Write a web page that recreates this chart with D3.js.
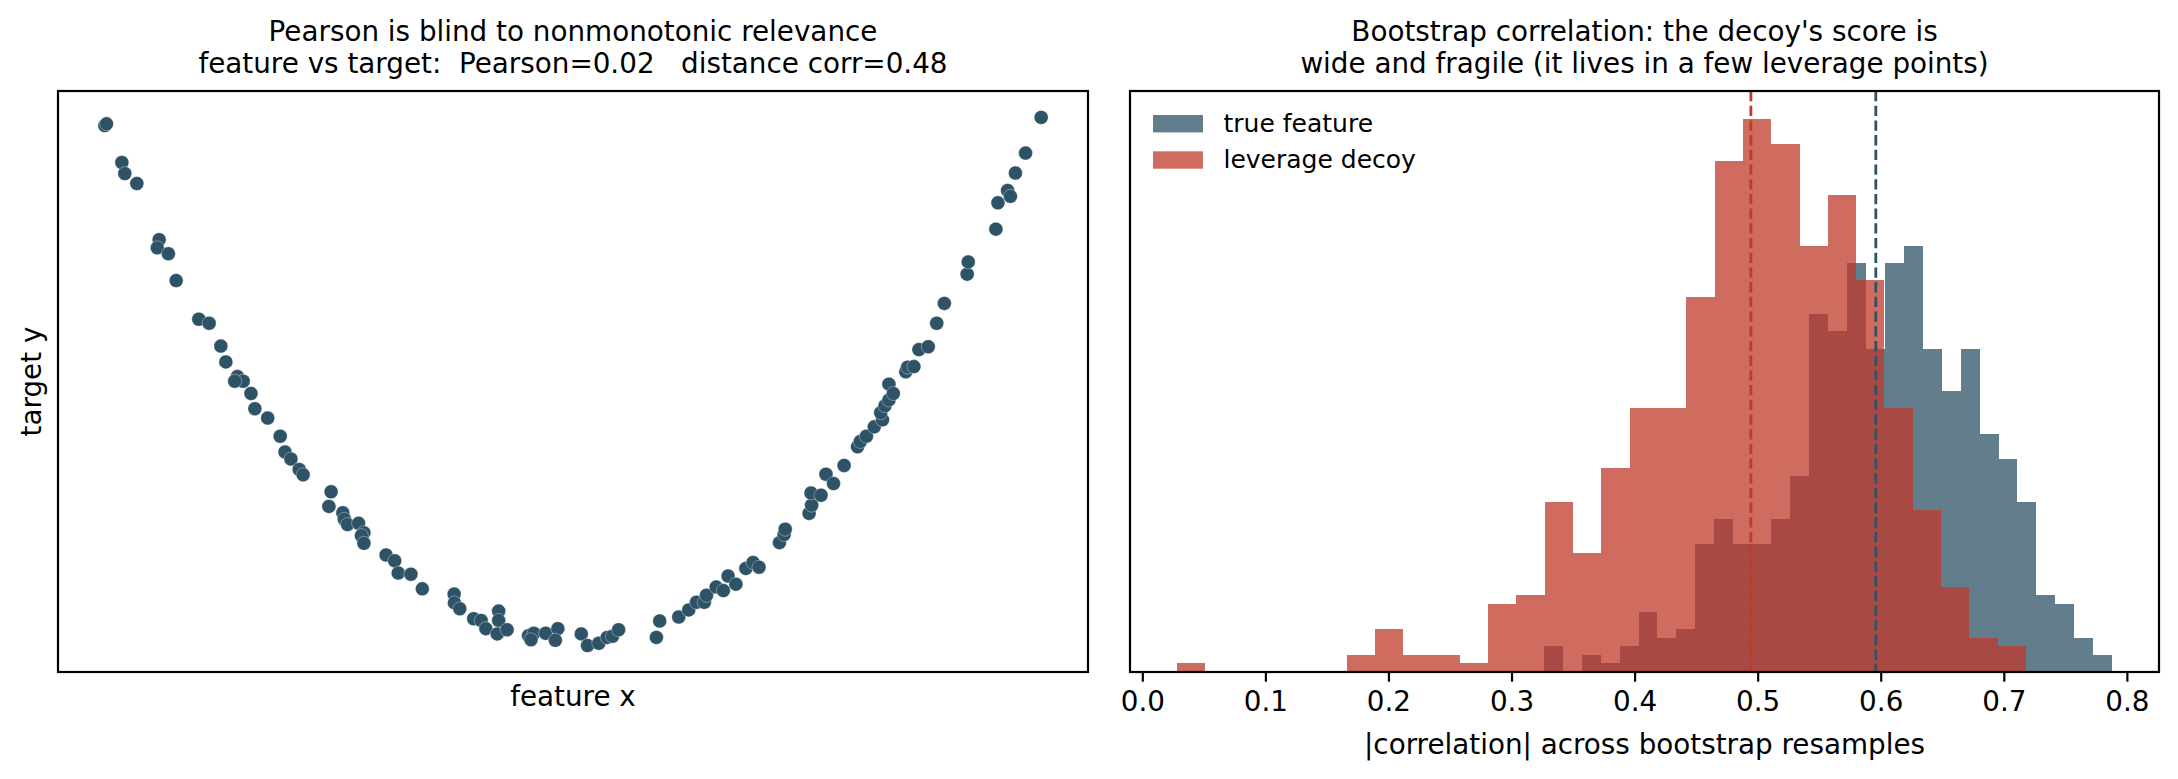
<!DOCTYPE html>
<html>
<head>
<meta charset="utf-8">
<script src="https://cdn.jsdelivr.net/npm/d3@7"></script>
<style>
  body { margin: 0; background: #fff; }
  svg { display: block; font-family: "DejaVu Sans", sans-serif; }
  text, tspan { white-space: pre; }
</style>
</head>
<body>
<div id="chart"></div>
<script>
// left panel: feature vs target scatter
const featureX = [-2.995,-2.984,-2.886,-2.867,-2.790,-2.647,-2.659,-2.588,-2.538,-2.393,
  -2.327,-2.252,-2.220,-2.146,-2.109,-2.163,-2.059,-2.034,-1.952,-1.872,
  -1.841,-1.803,-1.750,-1.725,-1.546,-1.560,-1.471,-1.461,-1.441,-1.370,
  -1.336,-1.352,-1.336,-1.194,-1.139,-1.116,-1.035,-0.962,-0.758,-0.756,
  -0.722,-0.633,-0.585,-0.555,-0.473,-0.473,-0.482,-0.419,-0.282,-0.248,
  -0.266,-0.172,-0.094,-0.110,0.056,0.096,0.168,0.222,0.256,0.295,
  0.537,0.558,0.680,0.744,0.794,0.844,0.858,0.920,0.966,0.996,
  1.046,1.110,1.156,1.194,1.325,1.355,1.362,1.515,1.531,1.527,
  1.591,1.623,1.671,1.739,1.825,1.843,1.882,1.932,1.985,1.973,
  2.001,2.026,2.026,2.054,2.134,2.146,2.186,2.218,2.278,2.332,
  2.381,2.527,2.534,2.711,2.724,2.786,2.804,2.836,2.901,3.001];
const targetY = [8.87,8.90,8.24,8.05,7.88,6.92,6.78,6.68,6.22,5.56,
  5.49,5.10,4.83,4.58,4.50,4.50,4.29,4.03,3.87,3.56,
  3.29,3.17,2.99,2.90,2.61,2.36,2.25,2.14,2.05,2.07,
  1.91,1.86,1.73,1.53,1.43,1.22,1.20,0.95,0.86,0.71,
  0.61,0.44,0.41,0.27,0.57,0.41,0.18,0.25,0.15,0.19,
  0.08,0.19,0.27,0.07,0.18,-0.02,0.02,0.12,0.14,0.25,
  0.12,0.40,0.47,0.59,0.72,0.72,0.84,0.98,0.92,1.17,
  1.03,1.30,1.40,1.32,1.74,1.88,1.97,2.24,2.38,2.59,
  2.55,2.91,2.75,3.06,3.38,3.47,3.56,3.72,3.84,3.96,
  4.08,4.18,4.45,4.29,4.66,4.74,4.75,5.04,5.09,5.49,
  5.83,6.33,6.54,7.10,7.55,7.76,7.66,8.06,8.40,9.01];

// right panel: bootstrap histograms (30 bins each, 600 resamples)
const trueCounts = [3,0,2,1,3,7,4,5,15,18,15,15,18,23,42,40,48,38,48,50,38,33,38,28,25,20,9,8,4,2];
const trueBinRange = [0.3262, 0.7881];
const decoyCounts = [1,0,0,0,0,0,2,5,2,2,1,8,9,20,14,24,31,31,44,60,65,62,50,56,46,31,19,10,4,3];
const decoyBinRange = [0.028, 0.718];
const trueMarker = 0.596;
const decoyMarker = 0.4945;
const corrTicks = [0, 0.1, 0.2, 0.3, 0.4, 0.5, 0.6, 0.7, 0.8];

const seriesNames = ["true feature", "leverage decoy"];
const titleLeft = ["Pearson is blind to nonmonotonic relevance",
                   "feature vs target:  Pearson=0.02   distance corr=0.48"];
const titleRight = ["Bootstrap correlation: the decoy's score is",
                    "wide and fragile (it lives in a few leverage points)"];

const W = 2178, H = 779;
const FS = 27.8;
const blue = "#2e5366", red = "#c0392b";

const svg = d3.select("#chart").append("svg")
    .attr("width", W)
    .attr("height", H);

svg.append("rect").attr("width", W).attr("height", H).attr("fill", "#fff");

const axTop = 91, axBottom = 672;
const panelL = { x0: 58, x1: 1088 };
const panelR = { x0: 1130, x1: 2159 };

function padded(ext, lo = 0.05, hi = 0.05) {
    const r = ext[1] - ext[0];
    return [ext[0] - r * lo, ext[1] + r * hi];
}

function titleBlock(lines, cx) {
    svg.append("text")
        .attr("x", cx)
        .attr("y", 41)
        .attr("text-anchor", "middle")
        .attr("font-size", FS)
        .attr("xml:space", "preserve")
        .selectAll("tspan")
        .data(lines)
        .enter()
        .append("tspan")
        .attr("x", cx)
        .attr("dy", (d, i) => i === 0 ? 0 : 31.5)
        .text(d => d);
}

function frame(p) {
    svg.append("rect")
        .attr("x", p.x0)
        .attr("y", axTop)
        .attr("width", p.x1 - p.x0)
        .attr("height", axBottom - axTop)
        .attr("fill", "none")
        .attr("stroke", "#000")
        .attr("stroke-width", 2.2);
}

// ---- left: scatter ----
const xs = d3.scaleLinear().domain(padded(d3.extent(featureX))).range([panelL.x0, panelL.x1]);
const ys = d3.scaleLinear().domain(padded(d3.extent(targetY))).range([axBottom, axTop]);

svg.append("g")
    .selectAll("circle")
    .data(featureX.map((x, i) => [x, targetY[i]]))
    .enter()
    .append("circle")
    .attr("cx", d => xs(d[0]))
    .attr("cy", d => ys(d[1]))
    .attr("r", 7)
    .attr("fill", blue)
    .attr("stroke", "#fff")
    .attr("stroke-opacity", 0.5)
    .attr("stroke-width", 0.7);

frame(panelL);
titleBlock(titleLeft, (panelL.x0 + panelL.x1) / 2);

svg.append("text")
    .attr("x", (panelL.x0 + panelL.x1) / 2)
    .attr("y", 706)
    .attr("text-anchor", "middle")
    .attr("font-size", FS)
    .text("feature x");

svg.append("text")
    .attr("transform", `translate(40.5, ${(axTop + axBottom) / 2}) rotate(-90)`)
    .attr("text-anchor", "middle")
    .attr("font-size", FS)
    .text("target y");

// ---- right: histograms ----
const xh = d3.scaleLinear()
    .domain(padded([decoyBinRange[0], trueBinRange[1]]))
    .range([panelR.x0, panelR.x1]);
const maxCount = d3.max(decoyCounts.concat(trueCounts));
const yh = d3.scaleLinear().domain([0, maxCount * 1.05]).range([axBottom, axTop]);

function binsOf(counts, range) {
    const w = (range[1] - range[0]) / counts.length;
    return counts.map((c, i) => ({ lo: range[0] + i * w, hi: range[0] + (i + 1) * w, c }));
}

const series = [
    { name: seriesNames[0], color: blue, bins: binsOf(trueCounts, trueBinRange), marker: trueMarker },
    { name: seriesNames[1], color: red, bins: binsOf(decoyCounts, decoyBinRange), marker: decoyMarker }
];

series.forEach(s => {
    svg.append("g")
        .selectAll("rect")
        .data(s.bins.filter(b => b.c > 0))
        .enter()
        .append("rect")
        .attr("x", b => xh(b.lo))
        .attr("width", b => xh(b.hi) - xh(b.lo))
        .attr("y", b => yh(b.c))
        .attr("height", b => yh(0) - yh(b.c))
        .attr("fill", s.color)
        .attr("fill-opacity", 0.75)
        .attr("shape-rendering", "crispEdges");
});

series.forEach(s => {
    svg.append("line")
        .attr("x1", xh(s.marker))
        .attr("x2", xh(s.marker))
        .attr("y1", axTop)
        .attr("y2", axBottom)
        .attr("stroke", s.color)
        .attr("stroke-width", 2.8)
        .attr("stroke-dasharray", "10.3,4.4");
});

// x axis
const xAxis = d3.axisBottom(xh)
    .tickValues(corrTicks)
    .tickFormat(d3.format(".1f"))
    .tickSize(9.7)
    .tickPadding(9.7);

const gx = svg.append("g")
    .attr("transform", `translate(0,${axBottom})`)
    .call(xAxis);
gx.select(".domain").remove();
gx.selectAll(".tick line").attr("stroke", "#000").attr("stroke-width", 2.2);
gx.selectAll(".tick text")
    .attr("font-size", FS)
    .attr("font-family", "DejaVu Sans")
    .attr("fill", "#000");

frame(panelR);
titleBlock(titleRight, (panelR.x0 + panelR.x1) / 2);

svg.append("text")
    .attr("x", (panelR.x0 + panelR.x1) / 2)
    .attr("y", 754)
    .attr("text-anchor", "middle")
    .attr("font-size", FS)
    .text("|correlation| across bootstrap resamples");

// legend
const legend = svg.append("g").attr("transform", "translate(1153, 115)");
legend.selectAll("rect")
    .data(series)
    .enter()
    .append("rect")
    .attr("x", 0)
    .attr("y", (d, i) => i * 36.3)
    .attr("width", 50)
    .attr("height", 17.4)
    .attr("fill", d => d.color)
    .attr("fill-opacity", 0.75);
legend.selectAll("text")
    .data(series)
    .enter()
    .append("text")
    .attr("x", 70.5)
    .attr("y", (d, i) => i * 36.3 + 17)
    .attr("font-size", 25)
    .attr("fill", "#000")
    .text(d => d.name);
</script>
</body>
</html>
